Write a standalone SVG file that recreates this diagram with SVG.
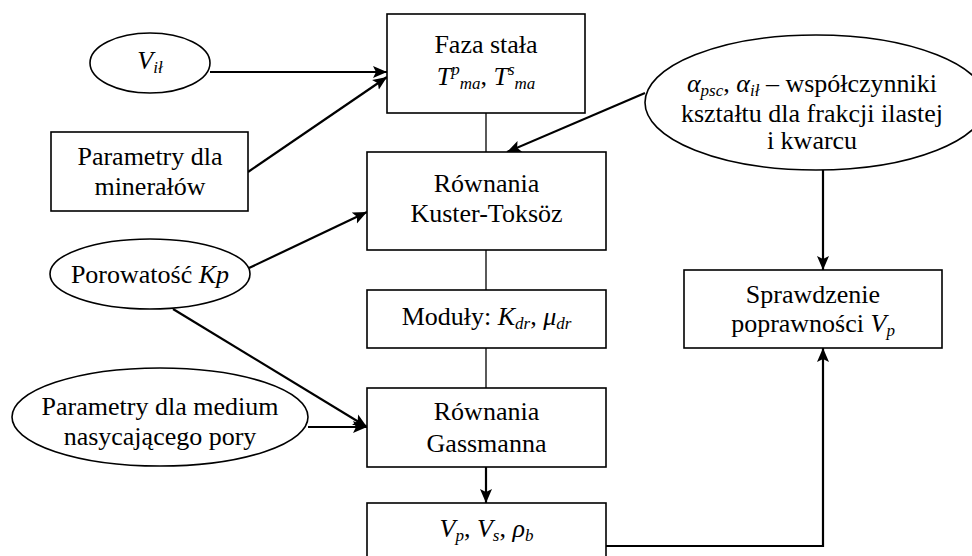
<svg xmlns="http://www.w3.org/2000/svg" width="972" height="556" viewBox="0 0 972 556">
<defs>
<marker id="arr" markerUnits="userSpaceOnUse" markerWidth="16" markerHeight="13" refX="14" refY="6.5" orient="auto">
<path d="M0,0.5 L14,6.5 L0,12.5 L3,6.5 z" fill="#000"/>
</marker>
<style>
.box{fill:#fff;stroke:#000;stroke-width:1.6}
.t{font-family:"Liberation Serif","Times New Roman",serif;font-size:26px;fill:#000;text-anchor:middle}
.i{font-style:italic}
.s{font-size:17px}
.a{fill:none;stroke:#000;stroke-width:2.2;marker-end:url(#arr)}
.l{fill:none;stroke:#000;stroke-width:1.3}
</style>
</defs>
<rect width="972" height="556" fill="#fff"/>
<g id="connectors">
<line class="a" x1="210" y1="72" x2="387" y2="72"/>
<line class="a" x1="248" y1="172" x2="387" y2="77"/>
<line class="l" x1="486" y1="113" x2="486" y2="152"/>
<line class="a" x1="645" y1="93" x2="507" y2="152"/>
<line class="a" x1="249" y1="268" x2="367" y2="212"/>
<line class="l" x1="486" y1="250" x2="486" y2="290"/>
<line class="l" x1="486" y1="348" x2="486" y2="388"/>
<line class="a" x1="173" y1="309" x2="367" y2="427"/>
<line class="a" x1="308" y1="427" x2="367" y2="427"/>
<line class="a" x1="486" y1="467" x2="486" y2="503"/>
<line class="a" x1="823" y1="170" x2="823" y2="270"/>
<polyline class="a" points="606,546 823,546 823,348"/>
</g>
<g id="n-vil">
<ellipse class="box" cx="150" cy="63" rx="60" ry="30"/>
<text class="t i" x="150" y="69"><tspan>V</tspan><tspan class="s" dy="4">ił</tspan></text>
</g>
<g id="n-faza">
<rect class="box" x="387" y="14" width="198" height="99"/>
<text class="t" x="486" y="53">Faza stała</text>
<text class="t i" x="486" y="85"><tspan>T</tspan><tspan class="s" dy="-10">p</tspan><tspan class="s" dy="14">ma</tspan><tspan dy="-4" font-style="normal">, </tspan><tspan>T</tspan><tspan class="s" dy="-10">s</tspan><tspan class="s" dy="14">ma</tspan></text>
</g>
<g id="n-minerals">
<rect class="box" x="51" y="132" width="197" height="79"/>
<text class="t" x="150" y="165">Parametry dla</text>
<text class="t" x="150" y="195">minerałów</text>
</g>
<g id="n-alpha">
<ellipse class="box" cx="816" cy="102.5" rx="171" ry="67.5"/>
<text class="t" x="812" y="92"><tspan class="i">α</tspan><tspan class="s i" dy="4">psc</tspan><tspan dy="-4">, </tspan><tspan class="i">α</tspan><tspan class="s i" dy="4">ił</tspan><tspan dy="-4"> – współczynniki</tspan></text>
<text class="t" x="812" y="122">kształtu dla frakcji ilastej</text>
<text class="t" x="812" y="149">i kwarcu</text>
</g>
<g id="n-kuster">
<rect class="box" x="367" y="152" width="239" height="98"/>
<text class="t" x="486.5" y="192">Równania</text>
<text class="t" x="486.5" y="222">Kuster-Toksöz</text>
</g>
<g id="n-porowatosc">
<ellipse class="box" cx="150" cy="274" rx="100" ry="35"/>
<text class="t" x="150" y="283">Porowatość <tspan class="i">Kp</tspan></text>
</g>
<g id="n-moduly">
<rect class="box" x="367" y="290" width="239" height="58"/>
<text class="t" x="486.5" y="325">Moduły: <tspan class="i">K</tspan><tspan class="s i" dy="4">dr</tspan><tspan dy="-4">, </tspan><tspan class="i">μ</tspan><tspan class="s i" dy="4">dr</tspan></text>
</g>
<g id="n-medium">
<ellipse class="box" cx="160" cy="417" rx="148" ry="49"/>
<text class="t" x="160" y="415">Parametry dla medium</text>
<text class="t" x="160" y="445">nasycającego pory</text>
</g>
<g id="n-gassmann">
<rect class="box" x="367" y="388" width="239" height="79"/>
<text class="t" x="486.5" y="420">Równania</text>
<text class="t" x="486.5" y="452">Gassmanna</text>
</g>
<g id="n-v">
<rect class="box" x="367" y="503" width="239" height="60"/>
<text class="t i" x="486.5" y="537"><tspan>V</tspan><tspan class="s" dy="4">p</tspan><tspan dy="-4" font-style="normal">, </tspan><tspan>V</tspan><tspan class="s" dy="4">s</tspan><tspan dy="-4" font-style="normal">, </tspan><tspan>ρ</tspan><tspan class="s" dy="4">b</tspan></text>
</g>
<g id="n-sprawdzenie">
<rect class="box" x="684" y="270" width="258" height="78"/>
<text class="t" x="813" y="303">Sprawdzenie</text>
<text class="t" x="813" y="332">poprawności <tspan class="i">V</tspan><tspan class="s i" dy="4">p</tspan></text>
</g>
</svg>
